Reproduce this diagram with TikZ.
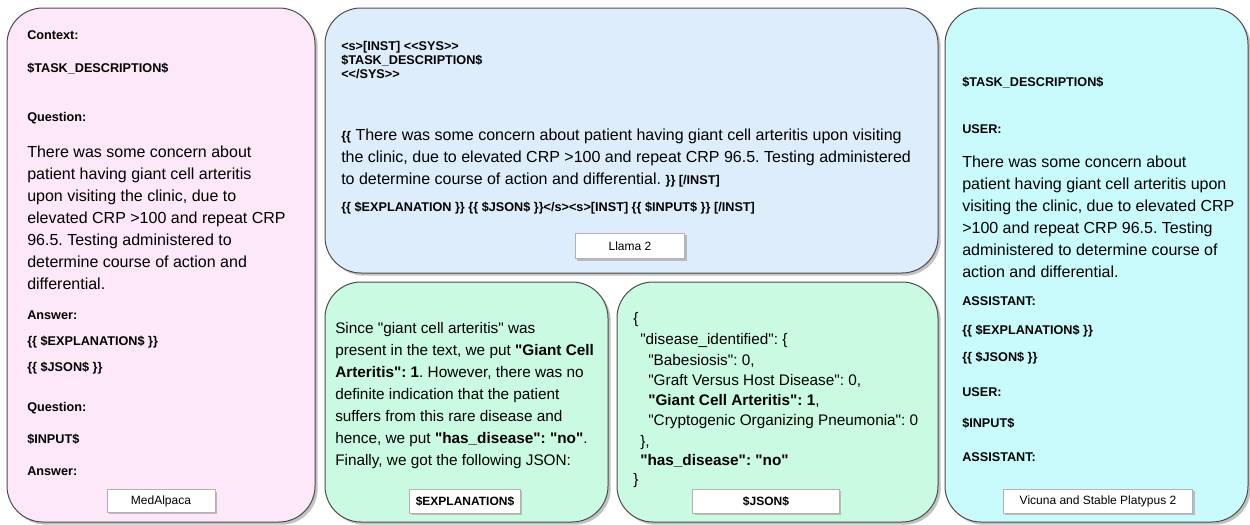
\documentclass[tikz,border=0pt]{standalone}
\usepackage{fontspec}
\setmainfont{Liberation Sans}[Ligatures=TeXOff]
\usetikzlibrary{shadows}
\frenchspacing

\definecolor{pinkbg}{HTML}{FDE8F9}
\definecolor{bluebg}{HTML}{DEEDFB}
\definecolor{greenbg}{HTML}{CBFAE3}
\definecolor{cyanbg}{HTML}{C9FBFD}

\newcommand{\cuefont}{\fontsize{9.5}{11}\selectfont\bfseries}

\tikzset{
  panel/.style={draw=black!70, line width=0.75pt, rounded corners=27pt,
    drop shadow={shadow xshift=2pt, shadow yshift=-2pt, fill=black!40, opacity=0.6}},
  tag/.style={draw=black!30, fill=white, inner sep=0pt, font=\fontsize{9}{11}\selectfont,
    drop shadow={shadow xshift=1.5pt, shadow yshift=-1.5pt, fill=black!35, opacity=0.7}},
  cue/.style={anchor=west, inner sep=0pt, font=\cuefont, text height=7pt, text depth=2pt},
  prose/.style={anchor=west, inner sep=0pt, font=\fontsize{12}{14}\selectfont, text height=9pt, text depth=3pt},
  jsonline/.style={prose, font=\fontsize{11.5}{13}\selectfont}
}

\begin{document}
\begin{tikzpicture}[x=0.75pt, y=-0.75pt]
\useasboundingbox (0,0) rectangle (1250,525);

% panels
\draw[panel, fill=pinkbg] (7,8) rectangle (315,522);
\draw[panel, fill=bluebg] (325,8) rectangle (938,273);
\draw[panel, fill=greenbg] (325,282) rectangle (608,522);
\draw[panel, fill=greenbg] (617,282) rectangle (938,522);
\draw[panel, fill=cyanbg] (945,8) rectangle (1248,522);

% MedAlpaca
\foreach \y/\t [count=\i] in {36/Context:, 69/\$TASK\_DESCRIPTION\$, 118/Question:, 316/Answer:,
  342/\{\{ \$EXPLANATION\$ \}\}, 368/\{\{ \$JSON\$ \}\}, 408/Question:, 440/\$INPUT\$, 472/Answer:}
  \node[cue] (ma\i) at (27,\y) {\t};
\foreach \y/\t [count=\i] in {153/There was some concern about, 175/patient having giant cell arteritis,
  197/{upon visiting the clinic, due to}, 219/elevated CRP >100 and repeat CRP, 241/96.5. Testing administered to,
  263/determine course of action and, 285/differential.}
  \node[prose] (map\i) at (27,\y) {\t};
\node[tag, minimum width=81pt, minimum height=17pt] (medalpaca) at (161,501) {MedAlpaca};

% Llama 2
\foreach \y/\t [count=\i] in {47/{<s>[INST] <<SYS>>}, 61/\$TASK\_DESCRIPTION\$, 75/{<</SYS>>},
  208/{\{\{ \$EXPLANATION \}\} \{\{ \$JSON\$ \}\}</s><s>[INST] \{\{ \$INPUT\$ \}\} [/INST]}}
  \node[cue] (ll\i) at (341,\y) {\t};
\node[prose] (llp1) at (341,136) {{\cuefont\{\{} There was some concern about patient having giant cell arteritis upon visiting};
\node[prose] (llp2) at (341,158) {the clinic, due to elevated CRP >100 and repeat CRP 96.5. Testing administered};
\node[prose] (llp3) at (341,180) {to determine course of action and differential. {\cuefont\}\} [/INST]}};
\node[tag, minimum width=82pt, minimum height=19pt] (llama) at (630,246) {Llama 2};

% explanation
\foreach \y/\t [count=\i] in {329/Since "giant cell arteritis" was, 351/{present in the text, we put \textbf{"Giant Cell}},
  373/{\textbf{Arteritis": 1}. However, there was no}, 395/definite indication that the patient,
  417/suffers from this rare disease and, 439/{hence, we put \textbf{"has\_disease": "no"}.},
  461/{Finally, we got the following JSON:}}
  \node[jsonline] (ex\i) at (335,\y) {\t};
\node[tag, minimum width=83pt, minimum height=18pt, font=\fontsize{9}{11}\selectfont\bfseries] (explanation) at (465,501) {\$EXPLANATION\$};

% JSON
\foreach \x/\y/\t [count=\i] in {633/319/\{, 640/340/"disease\_identified": \{, 648/361/{"Babesiosis": 0,},
  648/381/{"Graft Versus Host Disease": 0,}, 648/401/{\textbf{"Giant Cell Arteritis": 1},},
  648/421/"Cryptogenic Organizing Pneumonia": 0, 640/442/{\},}, 640/461/\textbf{"has\_disease": "no"}, 633/480/\}}
  \node[jsonline] (js\i) at (\x,\y) {\t};
\node[tag, minimum width=110pt, minimum height=18pt, font=\fontsize{9}{11}\selectfont\bfseries] (json) at (766,501) {\$JSON\$};

% Vicuna and Stable Platypus 2
\foreach \y/\t [count=\i] in {83/\$TASK\_DESCRIPTION\$, 130/USER:, 302/ASSISTANT:, 331/\{\{ \$EXPLANATION\$ \}\},
  358/\{\{ \$JSON\$ \}\}, 393/USER:, 424/\$INPUT\$, 458/ASSISTANT:}
  \node[cue] (vc\i) at (962,\y) {\t};
\foreach \y/\t [count=\i] in {163/There was some concern about, 185/patient having giant cell arteritis upon,
  207/{visiting the clinic, due to elevated CRP}, 229/>100 and repeat CRP 96.5. Testing,
  251/administered to determine course of, 273/action and differential.}
  \node[prose] (vcp\i) at (962,\y) {\t};
\node[tag, minimum width=142pt, minimum height=18pt] (vicuna) at (1098,501) {Vicuna and Stable Platypus 2};
\end{tikzpicture}
\end{document}
